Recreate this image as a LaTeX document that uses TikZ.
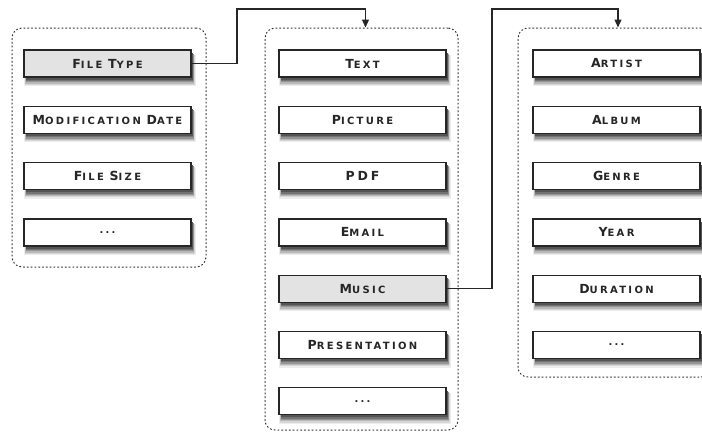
\documentclass[tikz,border=0pt]{standalone}
\usepackage{fontspec}
\setmainfont{DejaVu Sans}
\newfontfamily\scfont[LetterSpace=23]{DejaVu Sans}
\usetikzlibrary{arrows.meta}
\newcommand\capsz{\fontsize{12.5}{14}\selectfont}
\newcommand\smsz{\fontsize{10}{12}\selectfont}
\newcommand\scw[2]{{\capsz #1}{\smsz #2}}
\definecolor{sha}{gray}{0.93}
\definecolor{shb}{gray}{0.84}
\definecolor{shc}{gray}{0.72}
\definecolor{shd}{gray}{0.58}
\definecolor{she}{gray}{0.45}
\definecolor{shf}{gray}{0.33}
\tikzset{
  item/.style={draw=black!85, line width=1.3pt, fill=white, minimum width=167pt,
    minimum height=27pt, inner sep=0pt, text=black!85,
    font=\scfont\bfseries},
  hl/.style={item, fill=black!11},
  cont/.style={draw=black!80, line width=1pt, dash pattern=on 1.2pt off 2.6pt,
    line cap=round, rounded corners=10pt, inner sep=0pt},
  conn/.style={draw=black!85, line width=1.2pt, -{Triangle[length=8pt,width=7pt]}}
}
\begin{document}
\begin{tikzpicture}[x=1pt,y=-1pt]
\useasboundingbox (0,0) rectangle (702,432);
% containers
\node[cont, minimum width=194pt, minimum height=239pt] (cl) at (109,147.5) {};
\node[cont, minimum width=193pt, minimum height=402pt] (cm) at (361.5,229) {};
\node[cont, minimum width=193pt, minimum height=349pt] (cr) at (614.5,202.5) {};
% left column
\node[hl]   (l1) at (107.5,63.5)  {\scw{F}{ILE} \scw{T}{YPE}};
\node[item] (l2) at (107.5,119.8) {\scw{M}{ODIFICATION} \scw{D}{ATE}};
\node[item] (l3) at (107.5,176.1) {\scw{F}{ILE} \scw{S}{IZE}};
\node[item] (l4) at (107.5,232.4) {\smsz ...};
% middle column
\node[item] (m1) at (362.5,63.5)  {\scw{T}{EXT}};
\node[item] (m2) at (362.5,119.8) {\scw{P}{ICTURE}};
\node[item] (m3) at (362.5,176.1) {{\capsz PDF}};
\node[item] (m4) at (362.5,232.4) {\scw{E}{MAIL}};
\node[hl]   (m5) at (362.5,288.7) {\scw{M}{USIC}};
\node[item] (m6) at (362.5,345)   {\scw{P}{RESENTATION}};
\node[item] (m7) at (362.5,401.3) {\smsz ...};
% right column
\node[item] (r1) at (616.5,63.5)  {\scw{A}{RTIST}};
\node[item] (r2) at (616.5,119.8) {\scw{A}{LBUM}};
\node[item] (r3) at (616.5,176.1) {\scw{G}{ENRE}};
\node[item] (r4) at (616.5,232.4) {\scw{Y}{EAR}};
\node[item] (r5) at (616.5,288.7) {\scw{D}{URATION}};
\node[item] (r6) at (616.5,345)   {\smsz ...};
% shadows (drawn outside the boxes, below and right)
\foreach \n in {l1,l2,l3,l4,m1,m2,m3,m4,m5,m6,m7,r1,r2,r3,r4,r5,r6}{
  \foreach \cc/\a/\b/\d/\e in {sha/1/4.5/8.5/6, shb/1.5/3.6/7.2/5.5, shc/2/2.8/6/5, shd/2.3/2/4.6/4.5, she/2.5/1.3/3.3/4, shf/2.5/0.7/2/3.5}{
    \fill[\cc] ([shift={(\a,0)}]\n.south west) rectangle ([shift={(\b,\d)}]\n.south east);
    \fill[\cc] ([shift={(0,\e)}]\n.north east) rectangle ([shift={(\b,\d)}]\n.south east);
  }
}
% connectors
\coordinate (a1) at (237,9);
\coordinate (a2) at (492,9);
\draw[conn] (l1.east) -| (a1) -| ([xshift=4pt]cm.north);
\draw[conn] (m5.east) -| (a2) -| ([xshift=3.5pt]cr.north);
\end{tikzpicture}
\end{document}
